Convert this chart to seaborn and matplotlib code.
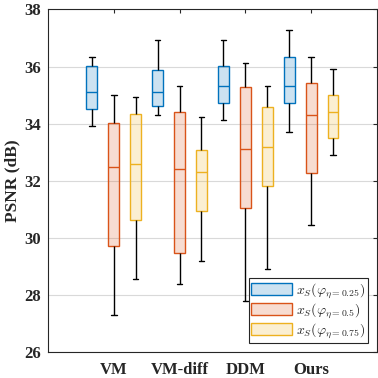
import numpy as np
import pandas as pd
import matplotlib
matplotlib.use('Agg')
import matplotlib.pyplot as plt
import matplotlib.colors as mcolors
from matplotlib.patches import Patch
import seaborn as sns

# ===== Data =====
methods = ['VM', 'VM-diff', 'DDM', 'Ours']
levels = ['0.25', '0.5', '0.75']

# one row per level, one column per method
whisk_lo = [[33.91, 34.30, 34.12, 33.70],
            [27.30, 28.39, 27.80, 30.44],
            [28.56, 29.19, 28.91, 32.90]]
q1 = [[34.51, 34.61, 34.72, 34.72],
      [29.71, 29.45, 31.03, 32.27],
      [30.62, 30.94, 31.81, 33.49]]
med = [[35.11, 35.11, 35.31, 35.31],
       [32.48, 32.41, 33.11, 34.30],
       [32.58, 32.30, 33.19, 34.40]]
q3 = [[36.01, 35.87, 36.01, 36.33],
      [34.02, 34.40, 35.28, 35.42],
      [34.33, 33.07, 34.58, 35.00]]
whisk_hi = [[36.33, 36.92, 36.92, 37.27],
            [35.01, 35.31, 36.12, 36.33],
            [34.93, 34.23, 35.31, 35.91]]

edge_colors = ['#0072BD', '#D95319', '#EDB120']
legend_labels = [r'$x_S(\varphi_{\eta=0.25})$',
                 r'$x_S(\varphi_{\eta=0.5})$',
                 r'$x_S(\varphi_{\eta=0.75})$']

# five points per box -> quartiles land exactly on the stats
rows = []
for i, lev in enumerate(levels):
    for j, m in enumerate(methods):
        for v in (whisk_lo[i][j], q1[i][j], med[i][j], q3[i][j], whisk_hi[i][j]):
            rows.append({'method': m, 'level': lev, 'psnr': v})
df = pd.DataFrame(rows)

sns.set_style('white')
plt.rcParams['font.family'] = ['Liberation Serif', 'DejaVu Serif']
plt.rcParams['font.weight'] = 'bold'
plt.rcParams['axes.labelweight'] = 'bold'
plt.rcParams['mathtext.fontset'] = 'cm'

fig = plt.figure(figsize=(3.78, 3.78), dpi=100)
ax = fig.add_axes([0.127, 0.069, 0.870, 0.906])
ax.set_axisbelow(True)
ax.grid(True, color='#d9d9d9', linewidth=0.8)

palette = dict(zip(levels, edge_colors))
for lev, col in zip(levels, edge_colors):
    n_before = len(ax.patches)
    sns.boxplot(
        data=df[df['level'] == lev],
        x='method', y='psnr',
        hue='level', hue_order=levels, order=methods,
        palette=palette, dodge=True,
        width=1.0, gap=0.5, whis=(0, 100),
        linecolor=col, linewidth=1.0,
        whiskerprops={'color': 'black', 'linewidth': 1.0},
        capprops={'color': 'black', 'linewidth': 1.0},
        medianprops={'color': col, 'linewidth': 1.0},
        legend=False, ax=ax,
    )
    for p in ax.patches[n_before:]:
        p.set_facecolor(mcolors.to_rgba(col, 0.2))
        p.set_edgecolor(col)

ax.set_xlim(-1, 4)
ax.set_ylim(26, 38)
ax.set_yticks(np.arange(26, 39, 2))
ax.set_xlabel('')
ax.set_ylabel('PSNR (dB)', fontsize=12.5, fontweight='bold', labelpad=3)
ax.tick_params(axis='both', labelsize=12, direction='in', length=3,
               top=True, right=True, color='#262626')
ax.tick_params(axis='x', pad=7)
ax.tick_params(axis='y', pad=5)
for lab in ax.get_xticklabels() + ax.get_yticklabels():
    lab.set_fontweight('bold')
for s in ax.spines.values():
    s.set_visible(True)
    s.set_color('#262626')
    s.set_linewidth(0.8)

handles = [Patch(facecolor=mcolors.to_rgba(c, 0.2), edgecolor=c, linewidth=1.0)
           for c in edge_colors]
leg = ax.legend(handles, legend_labels, loc='lower right', fontsize=10,
                frameon=True, fancybox=False, framealpha=1,
                edgecolor='#262626', handlelength=2.9, handleheight=0.95,
                handletextpad=0.3, labelspacing=0.1, borderpad=0.2,
                borderaxespad=0.65)
leg.get_frame().set_linewidth(0.8)

fig.savefig('out.png', dpi=100)
